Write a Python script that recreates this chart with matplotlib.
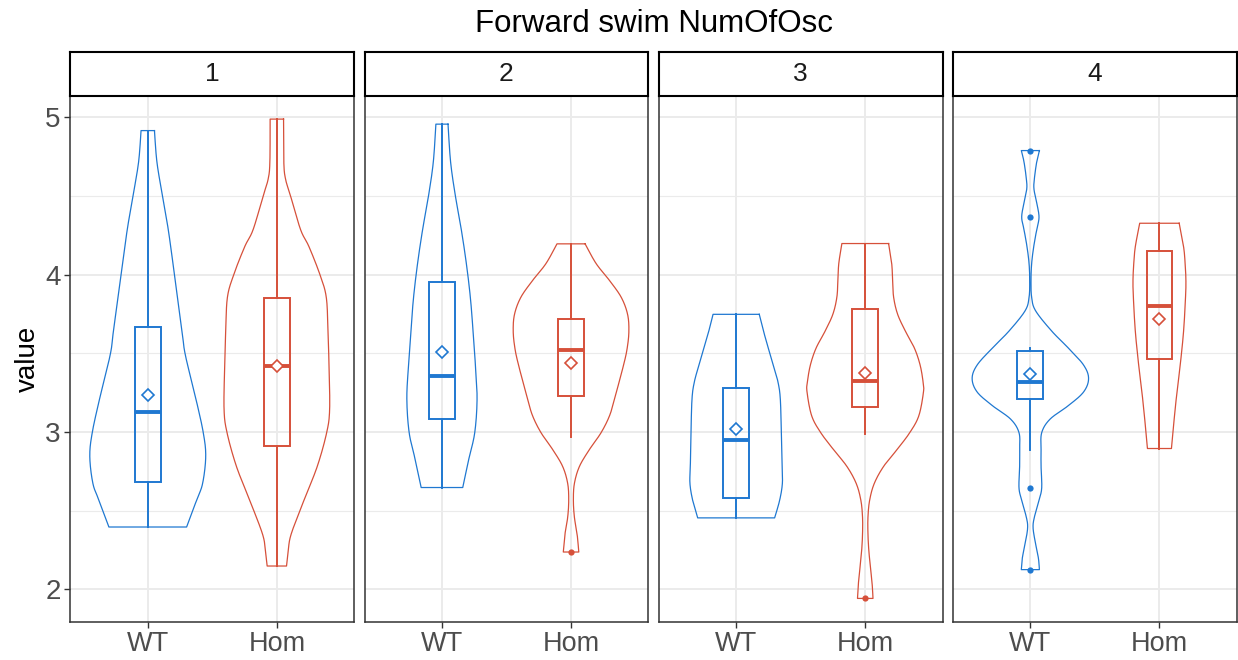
import numpy as np
import matplotlib
matplotlib.use("Agg")
import matplotlib.pyplot as plt
from matplotlib.patches import Rectangle

plt.rcParams['font.family'] = ['Liberation Sans', 'DejaVu Sans']

# ---------------- data ----------------
title = "Forward swim NumOfOsc"
panels = ["1", "2", "3", "4"]
groups = ["WT", "Hom"]
colors = {"WT": "#1F78D1", "Hom": "#D6503A"}

# violin outlines: y values and half widths (x units)
p1_wt_y = [4.916, 4.716, 4.501, 4.286, 4.0, 3.641, 3.490, 3.211, 2.996, 2.845, 2.673, 2.566, 2.396]
p1_wt_w = [0.052, 0.071, 0.114, 0.159, 0.207, 0.266, 0.291, 0.373, 0.430, 0.449, 0.425, 0.378, 0.301]
p1_hom_y = [4.989, 4.716, 4.609, 4.501, 4.286, 4.178, 4.0, 3.856, 3.641, 3.426, 3.146, 2.996, 2.781, 2.566, 2.351, 2.243, 2.148]
p1_hom_w = [0.052, 0.054, 0.067, 0.106, 0.184, 0.249, 0.334, 0.383, 0.396, 0.404, 0.409, 0.386, 0.313, 0.210, 0.111, 0.088, 0.075]
p2_wt_y = [4.957, 4.716, 4.501, 4.286, 4.071, 3.856, 3.641, 3.426, 3.211, 2.996, 2.824, 2.647]
p2_wt_w = [0.047, 0.067, 0.104, 0.150, 0.189, 0.220, 0.241, 0.259, 0.272, 0.254, 0.207, 0.161]
p2_hom_y = [4.196, 4.071, 3.963, 3.856, 3.748, 3.641, 3.533, 3.426, 3.211, 3.103, 2.996, 2.888, 2.781, 2.673, 2.566, 2.458, 2.351, 2.237]
p2_hom_w = [0.109, 0.194, 0.298, 0.389, 0.438, 0.448, 0.435, 0.407, 0.337, 0.298, 0.233, 0.142, 0.065, 0.026, 0.018, 0.026, 0.047, 0.060]
p3_wt_y = [3.748, 3.641, 3.533, 3.426, 3.318, 3.211, 2.996, 2.781, 2.673, 2.566, 2.454]
p3_wt_w = [0.179, 0.212, 0.249, 0.288, 0.324, 0.342, 0.350, 0.355, 0.358, 0.337, 0.298]
p3_hom_y = [4.198, 4.071, 3.963, 3.856, 3.748, 3.641, 3.533, 3.426, 3.318, 3.254, 3.103, 2.996, 2.888, 2.781, 2.673, 2.566, 2.458, 2.351, 2.243, 2.135, 2.028, 1.942]
p3_hom_w = [0.181, 0.205, 0.212, 0.220, 0.251, 0.311, 0.381, 0.425, 0.448, 0.451, 0.415, 0.345, 0.246, 0.142, 0.070, 0.034, 0.021, 0.021, 0.028, 0.041, 0.054, 0.060]
p4_wt_y = [4.789, 4.716, 4.609, 4.544, 4.458, 4.366, 4.286, 4.178, 4.071, 3.963, 3.856, 3.770, 3.641, 3.533, 3.426, 3.340, 3.254, 3.168, 3.082, 2.996, 2.888, 2.781, 2.645, 2.566, 2.458, 2.394, 2.308, 2.200, 2.125]
p4_wt_w = [0.070, 0.049, 0.031, 0.028, 0.049, 0.067, 0.049, 0.026, 0.010, 0.005, 0.010, 0.041, 0.166, 0.295, 0.412, 0.451, 0.412, 0.295, 0.153, 0.088, 0.083, 0.083, 0.088, 0.067, 0.031, 0.021, 0.036, 0.062, 0.070]
p4_hom_y = [4.327, 4.178, 4.071, 3.963, 3.856, 3.641, 3.426, 3.211, 2.996, 2.895]
p4_hom_w = [0.153, 0.187, 0.199, 0.205, 0.202, 0.187, 0.161, 0.130, 0.104, 0.093]

violin_y = [[p1_wt_y, p1_hom_y], [p2_wt_y, p2_hom_y], [p3_wt_y, p3_hom_y], [p4_wt_y, p4_hom_y]]
violin_w = [[p1_wt_w, p1_hom_w], [p2_wt_w, p2_hom_w], [p3_wt_w, p3_hom_w], [p4_wt_w, p4_hom_w]]

# box statistics per panel: [WT, Hom]
box_q1 = [[2.684, 2.914], [3.082, 3.228], [2.583, 3.159], [3.211, 3.462]]
box_med = [[3.129, 3.419], [3.357, 3.523], [2.951, 3.325], [3.320, 3.798]]
box_q3 = [[3.665, 3.852], [3.953, 3.720], [3.277, 3.783], [3.516, 4.148]]
whisk_lo = [[2.396, 2.148], [2.647, 2.970], [2.454, 2.987], [2.888, 2.895]]
whisk_hi = [[4.916, 4.989], [4.957, 4.196], [3.748, 4.198], [3.533, 4.327]]
means = [[3.232, 3.419], [3.508, 3.441], [3.022, 3.376], [3.366, 3.718]]
outliers = [[[], []], [[], [2.237]], [[], [1.942]], [[4.789, 4.366, 2.645, 2.125], []]]

y_ticks = [2, 3, 4, 5]
y_minor = [2.5, 3.5, 4.5]


def catmull(y, w, n=24):
    pts = np.column_stack([y, w]).astype(float)
    P = np.vstack([pts[0], pts, pts[-1]])
    out = []
    t = np.linspace(0, 1, n, endpoint=False)[:, None]
    for i in range(1, len(P) - 2):
        p0, p1, p2, p3 = P[i - 1], P[i], P[i + 1], P[i + 2]
        seg = 0.5 * ((2 * p1) + (-p0 + p2) * t + (2 * p0 - 5 * p1 + 4 * p2 - p3) * t ** 2
                     + (-p0 + 3 * p1 - 3 * p2 + p3) * t ** 3)
        out.append(seg)
    out.append(P[-2][None])
    s = np.vstack(out)
    return s[:, 0], s[:, 1]


# ---------------- layout ----------------
W, H = 1238, 660
fig = plt.figure(figsize=(W / 100, H / 100), dpi=100)

pw = 284
lefts = [70.3, 364.5, 658.7, 952.9]
ptop, pbot = 96.3, 621.7
strip_top = 52.3

grid_col = "#EBEBEB"
for pi, pname in enumerate(panels):
    ax = fig.add_axes([lefts[pi] / W, (H - pbot) / H, pw / W, (pbot - ptop) / H])
    ax.set_xlim(0.4, 2.6)
    ax.set_ylim(1.794, 5.134)
    for yv in y_minor:
        ax.axhline(yv, color=grid_col, lw=0.8, zorder=0)
    for yv in y_ticks:
        ax.axhline(yv, color=grid_col, lw=1.4, zorder=0)
    for xv in [1, 2]:
        ax.axvline(xv, color=grid_col, lw=1.4, zorder=0)

    for gi, g in enumerate(groups):
        pos = gi + 1
        c = colors[g]
        yy, ww = catmull(violin_y[pi][gi], violin_w[pi][gi])
        xs = np.concatenate([pos + ww, (pos - ww)[::-1], [pos + ww[0]]])
        ys = np.concatenate([yy, yy[::-1], [yy[0]]])
        ax.plot(xs, ys, color=c, lw=0.9, zorder=2)
        # box
        q1, md, q3 = box_q1[pi][gi], box_med[pi][gi], box_q3[pi][gi]
        ax.add_patch(Rectangle((pos - 0.1, q1), 0.2, q3 - q1, fill=False,
                               edgecolor=c, lw=1.4, zorder=3))
        ax.plot([pos - 0.1, pos + 0.1], [md, md], color=c, lw=2.8, zorder=3,
                solid_capstyle='butt')
        ax.plot([pos, pos], [q3, whisk_hi[pi][gi]], color=c, lw=1.4, zorder=3)
        ax.plot([pos, pos], [q1, whisk_lo[pi][gi]], color=c, lw=1.4, zorder=3)
        if outliers[pi][gi]:
            ax.plot([pos] * len(outliers[pi][gi]), outliers[pi][gi], 'o', color=c,
                    ms=4.5, mew=0, zorder=4)
        ax.plot([pos], [means[pi][gi]], 'D', mfc='white', mec=c, ms=6.5, mew=1.2, zorder=5)

    ax.set_xticks([1, 2])
    ax.set_xticklabels(groups, fontsize=19.5, color="#4D4D4D")
    ax.tick_params(axis='x', length=4, width=1, color="#333333", pad=3)
    ax.set_yticks(y_ticks)
    if pi == 0:
        ax.set_yticklabels([str(v) for v in y_ticks], fontsize=20, color="#4D4D4D")
        ax.tick_params(axis='y', length=4, width=1, color="#333333", pad=3)
        ax.set_ylabel("value", fontsize=20, color="black", labelpad=3)
    else:
        ax.tick_params(axis='y', length=0, labelleft=False)
    for sp in ax.spines.values():
        sp.set_color("#333333")
        sp.set_linewidth(1.1)

    # strip
    sx = fig.add_axes([lefts[pi] / W, (H - ptop) / H, pw / W, (ptop - strip_top) / H])
    sx.set_xticks([])
    sx.set_yticks([])
    sx.set_facecolor("white")
    for sp in sx.spines.values():
        sp.set_color("black")
        sp.set_linewidth(1.5)
    sx.text(0.5, 0.5, pname, ha='center', va='center', fontsize=19, color="#1A1A1A",
            transform=sx.transAxes)

fig.text((lefts[0] + lefts[-1] + pw) / 2 / W, (H - 24) / H, title, ha='center', va='center',
         fontsize=22.5, color="black")

fig.savefig("out.png", dpi=100)
